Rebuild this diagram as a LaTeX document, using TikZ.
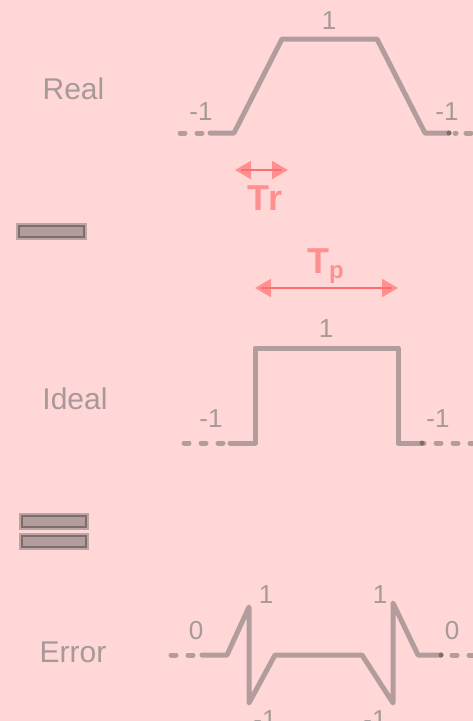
\documentclass[tikz,border=0pt]{standalone}
\usepackage{fontspec}
\setmainfont{Liberation Sans}
\usetikzlibrary{arrows.meta}

\definecolor{bgpink}{HTML}{FFD7D7}
\definecolor{wave}{HTML}{B39C9C}
\definecolor{wavedark}{HTML}{7F6C6C}
\definecolor{labelgray}{HTML}{A89999}
\definecolor{tred}{HTML}{FF9090}
\definecolor{tline}{HTML}{FF6E6E}

\tikzset{
  signal/.style={wave, line width=5pt, line join=round, line cap=round},
  tail/.style={wave, line width=5pt, line cap=round, dash pattern=on 5pt off 12pt},
  lvl/.style={labelgray, inner sep=0pt, font=\fontsize{26}{26}\selectfont},
  caption/.style={labelgray, inner sep=0pt, font=\fontsize{30}{30}\selectfont},
  span/.style={tred, line width=2pt, {Triangle[length=16pt,width=18pt]}-{Triangle[length=16pt,width=18pt]}},
  opbar/.style={draw=wavedark, fill=wave, line width=2.5pt},
}

\begin{document}
\begin{tikzpicture}[x=1pt,y=-1pt]
		%%%%% background %%%%%
		\fill[bgpink] (0,0) rectangle (473,721);
		\useasboundingbox (0,0) rectangle (473,721);
		
		%%%%% real pulse %%%%%
		\node[caption] (real) at (73.5,89) {Real};
		\draw[tail] (180,133) -- (204,133);
		\draw[signal] (210,133) -- (234,133) -- (282,39) -- (377,39) -- (425,133) -- (449,133);
		\draw[tail] (466,133) -- (480,133);
		\draw[tail] (455,133) -- (456,133);
		\fill[wavedark] (449,133) circle (2.5);
		\node[lvl] (r1) at (329,21) {1};
		\node[lvl] (rm1) at (201,112) {-1};
		\node[lvl] (rm2) at (447,112) {-1};
		
		% rise time
		\coordinate (tra) at (235,170);
		\coordinate (trb) at (288,170);
		\draw[span] (tra) -- (trb);
		\draw[tline, line width=2pt] (241,170) -- (282,170);
		\node[tred, font=\fontsize{36}{36}\selectfont\bfseries] (tr) at (265,198) {Tr};
		
		%%%%% minus %%%%%
		\draw[wave!90, line width=6pt] (19,226) rectangle (84,237);
		\draw[opbar] (19,226) rectangle (84,237);
		
		% pulse width
		\coordinate (tpa) at (255,288);
		\coordinate (tpb) at (398,288);
		\draw[span] (tpa) -- (tpb);
		\draw[tline, line width=2pt] (261,288) -- (392,288);
		\node[tred, anchor=base west, inner sep=0pt, font=\fontsize{36}{36}\selectfont\bfseries] (tp) at (307,273)
			{T\raisebox{-5pt}{\fontsize{24}{24}\selectfont p}};
		
		%%%%% ideal pulse %%%%%
		\node[caption] (ideal) at (75,399) {Ideal};
		\draw[tail] (184,443) -- (226,443);
		\draw[signal] (230,443) -- (255,443) -- (255,348) -- (398,348) -- (398,443) -- (424,443);
		\draw[tail] (436,443) -- (480,443);
		\fill[wavedark] (422,443) circle (2.5);
		\node[lvl] (i1) at (326,329) {1};
		\node[lvl] (im1) at (211,419) {-1};
		\node[lvl] (im2) at (438,419) {-1};
		
		%%%%% equals %%%%%
		\draw[wave!90, line width=6pt] (22,516) rectangle (86,527);
		\draw[opbar] (22,516) rectangle (86,527);
		\draw[wave!90, line width=6pt] (22,536) rectangle (86,547);
		\draw[opbar] (22,536) rectangle (86,547);
		
		%%%%% error %%%%%
		\node[caption] (error) at (73,652) {Error};
		\draw[tail] (171,655) -- (198,655);
		\draw[signal] (202,655) -- (227,655) -- (249,607) -- (249,703) -- (275,655) -- (362,655)
			-- (393,703) -- (393,603) -- (418,655) -- (441,655);
		\draw[tail] (452,655) -- (480,655);
		\fill[wavedark] (441,655) circle (2.5);
		\node[lvl] (e0) at (196,631) {0};
		\node[lvl] (e1) at (266,595) {1};
		\node[lvl] (em1) at (265,720) {-1};
		\node[lvl] (e2) at (380,595) {1};
		\node[lvl] (em2) at (375,720) {-1};
		\node[lvl] (e3) at (452,631) {0};
\end{tikzpicture}
\end{document}
